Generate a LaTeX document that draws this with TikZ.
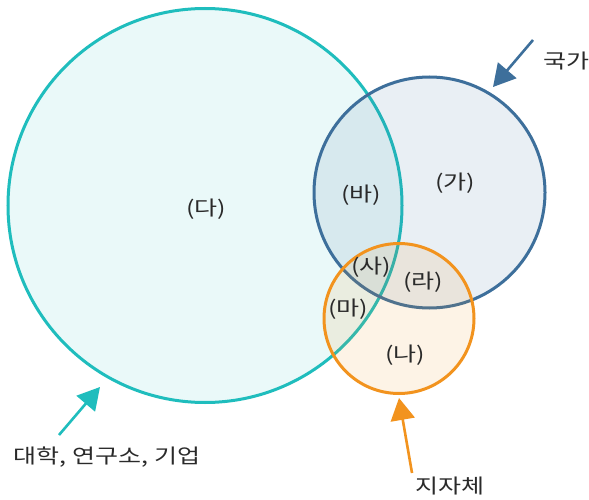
\documentclass[tikz,border=0pt]{standalone}
\usepackage{fontspec}
\newfontfamily\kr[FakeStretch=1.25]{Noto Sans CJK KR}
\usetikzlibrary{arrows.meta}
\definecolor{tealc}{HTML}{1FBDBD}
\definecolor{bluec}{HTML}{3D6F9B}
\definecolor{orangec}{HTML}{F2931E}
\definecolor{txt}{HTML}{2A2A2A}
\begin{document}
\begin{tikzpicture}[x=1pt,y=-1pt,
  venn/.style={circle, line width=3pt, draw opacity=1, inner sep=0pt},
  lbl/.style={font=\kr\fontsize{20}{20}\selectfont, text=txt, inner sep=0pt},
  outlbl/.style={font=\kr\fontsize{20}{20}\selectfont, text=txt, inner sep=0pt},
  pointer/.style={line width=2.6pt, -{Triangle[length=22pt,width=24pt]}}]
\useasboundingbox (0,0) rectangle (589,500);
\fill[white] (0,0) rectangle (589,500);
\node[venn, draw=tealc, fill=tealc, fill opacity=0.09, minimum size=394pt] (uni) at (205,205.5) {};
\node[venn, draw=bluec, fill=bluec, fill opacity=0.11, minimum size=231pt] (gov) at (429.5,192.5) {};
\node[venn, draw=orangec, fill=orangec, fill opacity=0.11, minimum size=150pt] (loc) at (399,318.5) {};
\node[lbl] (da) at (206,209) {(다)};
\node[lbl] (ga) at (455,183) {(가)};
\node[lbl] (ba) at (361,195) {(바)};
\node[lbl] (sa) at (371,267) {(사)};
\node[lbl] (ra) at (423,282) {(라)};
\node[lbl] (ma) at (348,309) {(마)};
\node[lbl] (na) at (405,355) {(나)};
\node[outlbl] (tgov) at (566,61) {국가};
\node[outlbl] (tuni) at (107,457) {대학, 연구소, 기업};
\node[outlbl] (tloc) at (450,486) {지자체};
\coordinate (gS) at (533,40);
\coordinate (gT) at (493,87);
\coordinate (uS) at (59,435);
\coordinate (uT) at (100,387);
\coordinate (lS) at (412,473);
\coordinate (lT) at (399,398);
\draw[pointer, bluec] (gS) -- (gT);
\draw[pointer, tealc] (uS) -- (uT);
\draw[pointer, orangec] (lS) -- (lT);
\end{tikzpicture}
\end{document}
